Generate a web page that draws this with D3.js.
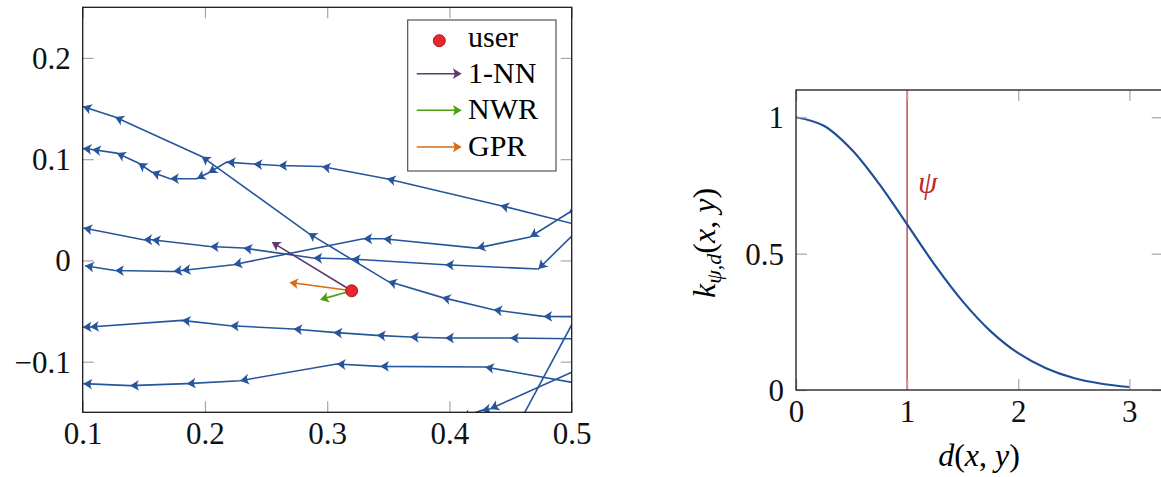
<!DOCTYPE html>
<html>
<head>
<meta charset="utf-8">
<script src="https://cdn.jsdelivr.net/npm/d3@7"></script>
<style>
    body { margin: 0; background: #fff; }
    text { font-family: "Liberation Serif", serif; }
</style>
</head>
<body>
<script>
"use strict";

// data: trajectories (travel order, right to left), arrowhead at each vertex after the first
const trajectories = [
    [[0.52, -0.0556], [0.4768, -0.0553], [0.4359, -0.0487], [0.3937, -0.0365], [0.3497, -0.0207], [0.2845, 0.0270], [0.1973, 0.1027], [0.1264, 0.1416], [0.1, 0.152]],
    [[0.51, 0.0335], [0.4414, 0.0543], [0.3487, 0.0807], [0.2955, 0.0928], [0.26, 0.0938], [0.2396, 0.0952], [0.2178, 0.0971], [0.2027, 0.0863], [0.1933, 0.0807], [0.1714, 0.0807], [0.1564, 0.0873], [0.1455, 0.0962], [0.1278, 0.106], [0.1076, 0.1096], [0.1, 0.1106]],
    [[0.51, 0.055], [0.4973, 0.0468], [0.4659, 0.0231], [0.4223, 0.0122], [0.3459, 0.0214], [0.3295, 0.0214], [0.2232, -0.0042], [0.181, -0.0099], [0.1741, -0.0109], [0.1264, -0.0099], [0.1019, -0.0052]],
    [[0.505, 0.030], [0.4727, -0.0085], [0.3964, -0.0042], [0.32, 0.0014], [0.2886, 0.0024], [0.2314, 0.0122], [0.2041, 0.0138], [0.1564, 0.0204], [0.1496, 0.0204], [0.1005, 0.032]],
    [[0.51, -0.0775], [0.4495, -0.0766], [0.3964, -0.0766], [0.3677, -0.0756], [0.3405, -0.074], [0.305, -0.0711], [0.2723, -0.0677], [0.2205, -0.0645], [0.181, -0.0592], [0.106, -0.0657], [0.1, -0.066]],
    [[0.51, -0.1226], [0.4291, -0.1052], [0.3432, -0.1046], [0.3078, -0.1023], [0.2287, -0.1188], [0.1851, -0.1217], [0.1387, -0.1237], [0.1005, -0.1217]],
    [[0.51, -0.105], [0.4332, -0.1467], [0.4264, -0.1481], [0.41, -0.155]],
    [[0.51, -0.041], [0.455, -0.165]]
];

// data: user and predictions
const userPoint = [0.32, -0.03];
const methodNames = ["1-NN", "NWR", "GPR"];
const methodColors = ["#5e3b6e", "#4f9e12", "#d86a18"];
const methodTips = [[0.2546, 0.0182], [0.2941, -0.0388], [0.269, -0.0217]];

// data: kernel curve
const kernelD = [0, 0.25, 0.5, 0.75, 1, 1.25, 1.5, 1.75, 2, 2.25, 2.5, 2.75, 3];
const kernelK = [1, 0.969, 0.882, 0.755, 0.607, 0.458, 0.325, 0.216, 0.135, 0.08, 0.044, 0.023, 0.011];
const psiValue = 1;

// ticks
const leftXTicks = [0.1, 0.2, 0.3, 0.4, 0.5];
const leftYTicks = [0.2, 0.1, 0, -0.1];
const rightXTicks = [0, 1, 2, 3];
const rightYTicks = [0, 0.5, 1];

const blue = "#27559b",
      fontSize = 31;

const svg = d3.select("body").append("svg")
.attr("width", 1161)
.attr("height", 477);

// number format: 0.2, 0, −0.1
const fmt = v => (v < 0 ? "\u2212" : "") + String(Math.abs(v));

function arrowHead(g, tip, from, color, size) {
    const ang = Math.atan2(tip[1] - from[1], tip[0] - from[0]) * 180 / Math.PI;
    g.append("path")
    .attr("d", `M0,0 L${-size},${-size * 0.6} Q${-size * 0.6},0 ${-size},${size * 0.6} Z`)
    .attr("transform", `translate(${tip[0]},${tip[1]}) rotate(${ang})`)
    .attr("fill", color);
}

function drawAxes(g, x, y, xTicks, yTicks) {
    const [x0, x1] = x.range(), [y0, y1] = y.range();

    let bottom = g.append("g")
    .attr("transform", `translate(0,${y0})`)
    .call(d3.axisBottom(x).tickValues(xTicks).tickSizeInner(-11).tickSizeOuter(0).tickFormat(fmt));
    bottom.selectAll("text").attr("y", 32).attr("dy", null);

    let left = g.append("g")
    .attr("transform", `translate(${x0},0)`)
    .call(d3.axisLeft(y).tickValues(yTicks).tickSizeInner(-11).tickSizeOuter(0).tickFormat(fmt));
    left.selectAll("text").attr("x", -12).attr("y", 10.5).attr("dy", null);

    g.append("g")
    .attr("transform", `translate(0,${y1})`)
    .call(d3.axisTop(x).tickValues(xTicks).tickSizeInner(-11).tickSizeOuter(0).tickFormat(() => ""));

    g.append("g")
    .attr("transform", `translate(${x1},0)`)
    .call(d3.axisRight(y).tickValues(yTicks).tickSizeInner(-11).tickSizeOuter(0).tickFormat(() => ""));

    g.selectAll(".domain").remove();
    g.selectAll(".tick line").attr("stroke", "#a6a6a6").attr("stroke-width", 1.2);
    g.selectAll(".tick text")
    .attr("fill", "#111")
    .style("font-family", "Liberation Serif")
    .style("font-size", fontSize + "px");

    g.append("rect")
    .attr("x", x0).attr("y", y1)
    .attr("width", x1 - x0).attr("height", y0 - y1)
    .attr("fill", "none")
    .attr("stroke", "#1a1a1a")
    .attr("stroke-width", 1.3);
}



// left plot
const xL = d3.scaleLinear().domain([0.1, 0.5]).range([82.7, 571.7]);
const yL = d3.scaleLinear().domain([-0.15, 0.25]).range([412.3, 7.3]);

svg.append("clipPath").attr("id", "clipL")
.append("rect")
.attr("x", 82.7).attr("y", 7.3)
.attr("width", 489).attr("height", 405);

let plotL = svg.append("g").attr("clip-path", "url(#clipL)");

let lineL = d3.line()
.x(d => xL(d[0]))
.y(d => yL(d[1]));

trajectories.forEach(t => {
    plotL.append("path")
    .datum(t)
    .attr("d", lineL)
    .attr("fill", "none")
    .attr("stroke", blue)
    .attr("stroke-width", 1.6);
    for (let i = 1; i < t.length; i++) {
        arrowHead(plotL, [xL(t[i][0]), yL(t[i][1])], [xL(t[i - 1][0]), yL(t[i - 1][1])], blue, 9);
    }
});

// prediction arrows
const up = [xL(userPoint[0]), yL(userPoint[1])];
methodTips.forEach((p, i) => {
    const tip = [xL(p[0]), yL(p[1])];
    const ang = Math.atan2(tip[1] - up[1], tip[0] - up[0]);
    plotL.append("line")
    .attr("x1", up[0]).attr("y1", up[1])
    .attr("x2", tip[0] - 5 * Math.cos(ang)).attr("y2", tip[1] - 5 * Math.sin(ang))
    .attr("stroke", methodColors[i])
    .attr("stroke-width", 1.6);
    arrowHead(plotL, tip, up, methodColors[i], 9);
});

plotL.append("circle")
.attr("cx", up[0]).attr("cy", up[1])
.attr("r", 6)
.attr("fill", "#e8262b")
.attr("stroke", "#a81b1f")
.attr("stroke-width", 1);

drawAxes(svg.append("g"), xL, yL, leftXTicks, leftYTicks);

// legend
let legend = svg.append("g").attr("class", "legend");
legend.append("rect")
.attr("x", 407.7).attr("y", 20)
.attr("width", 148.3).attr("height", 151)
.attr("fill", "#fff")
.attr("stroke", "#444")
.attr("stroke-width", 1.1);

const legendRows = [40.7, 73.7, 110.3, 147];
legend.append("circle")
.attr("cx", 439.3).attr("cy", legendRows[0])
.attr("r", 6)
.attr("fill", "#e8262b")
.attr("stroke", "#a81b1f");
legend.append("text")
.attr("x", 468).attr("y", 46.7)
.style("font-size", "30px")
.text("user");

methodNames.forEach((name, i) => {
    const yy = legendRows[i + 1];
    legend.append("line")
    .attr("x1", 416.7).attr("y1", yy)
    .attr("x2", 457).attr("y2", yy)
    .attr("stroke", methodColors[i])
    .attr("stroke-width", 1.6);
    arrowHead(legend, [461.7, yy], [416.7, yy], methodColors[i], 9);
    legend.append("text")
    .attr("x", 468).attr("y", yy + 9)
    .style("font-size", "30px")
    .text(name);
});



// right plot
const xR = d3.scaleLinear().domain([0, 3.3]).range([796, 1162.7]);
const yR = d3.scaleLinear().domain([0, 1.1]).range([390, 90]);

let plotR = svg.append("g");

plotR.append("line")
.attr("x1", xR(psiValue)).attr("x2", xR(psiValue))
.attr("y1", yR(0)).attr("y2", yR(1.1))
.attr("stroke", "#b83036")
.attr("stroke-width", 1.3);

plotR.append("path")
.datum(kernelD.map((d, i) => [d, kernelK[i]]))
.attr("d", d3.line().x(d => xR(d[0])).y(d => yR(d[1])).curve(d3.curveCatmullRom.alpha(0.5)))
.attr("fill", "none")
.attr("stroke", "#1f4f99")
.attr("stroke-width", 2.2);

plotR.append("text")
.attr("x", 918).attr("y", 193)
.attr("fill", "#c0282e")
.style("font-size", "31px")
.style("font-style", "italic")
.text("\u03c8");

drawAxes(svg.append("g"), xR, yR, rightXTicks, rightYTicks);

// axis labels
let xLab = svg.append("text")
.attr("x", 979).attr("y", 466)
.attr("text-anchor", "middle")
.style("font-size", "32px");
xLab.append("tspan").style("font-style", "italic").text("d");
xLab.append("tspan").text("(");
xLab.append("tspan").style("font-style", "italic").text("x");
xLab.append("tspan").text(", ");
xLab.append("tspan").style("font-style", "italic").text("y");
xLab.append("tspan").text(")");

let yLab = svg.append("text")
.attr("transform", "translate(715,243) rotate(-90)")
.attr("text-anchor", "middle")
.style("font-size", "32px");
yLab.append("tspan").style("font-style", "italic").text("k");
yLab.append("tspan").attr("dy", 6).style("font-size", "22px").style("font-style", "italic").text("\u03c8");
yLab.append("tspan").style("font-size", "22px").text(",");
yLab.append("tspan").style("font-size", "22px").style("font-style", "italic").text("d");
yLab.append("tspan").attr("dy", -6).text("(");
yLab.append("tspan").style("font-style", "italic").text("x");
yLab.append("tspan").text(", ");
yLab.append("tspan").style("font-style", "italic").text("y");
yLab.append("tspan").text(")");
</script>
</body>
</html>
